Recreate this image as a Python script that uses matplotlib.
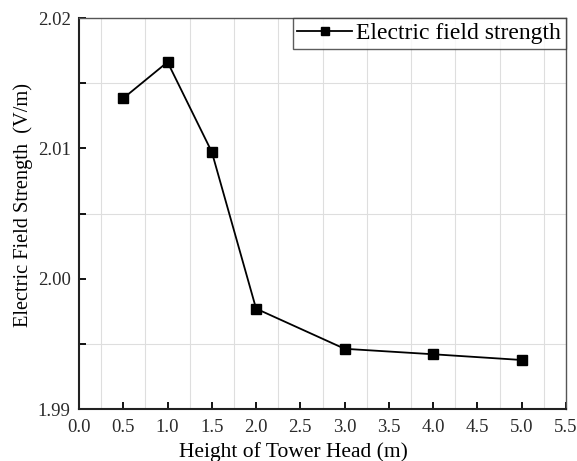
import numpy as np
import matplotlib.pyplot as plt
from matplotlib.ticker import MultipleLocator, FormatStrFormatter

# Data
height = [0.5, 1.0, 1.5, 2.0, 3.0, 4.0, 5.0]
field = [2.01384, 2.01662, 2.00972, 1.99770, 1.99462, 1.99420, 1.99376]

plt.rcParams['font.family'] = ['Liberation Serif', 'DejaVu Serif']
plt.rcParams['mathtext.fontset'] = 'stix'

fig = plt.figure(figsize=(5.77, 4.61), dpi=100)
ax = fig.add_axes([79 / 577, 1 - 409 / 461, 487 / 577, 391 / 461])

ax.plot(height, field, color='black', linewidth=1.3, marker='s',
        markersize=7.5, markerfacecolor='black', markeredgecolor='black',
        label='Electric field strength')

ax.set_xlim(0, 5.5)
ax.set_ylim(1.99, 2.02)
ax.xaxis.set_major_locator(MultipleLocator(0.5))
ax.xaxis.set_minor_locator(MultipleLocator(0.25))
ax.yaxis.set_major_locator(MultipleLocator(0.01))
ax.yaxis.set_minor_locator(MultipleLocator(0.005))
ax.xaxis.set_major_formatter(FormatStrFormatter('%.1f'))
ax.yaxis.set_major_formatter(FormatStrFormatter('%.2f'))

# grid only at the in-between positions
ax.grid(True, which='minor', color='#dedede', linewidth=0.8)
ax.grid(False, which='major')
ax.set_axisbelow(True)

ax.tick_params(axis='both', which='major', direction='in', length=5,
               width=1.3, labelsize=13.5, colors='black')
ax.tick_params(axis='x', which='major', pad=7)
ax.tick_params(axis='y', which='major', pad=6)
ax.tick_params(axis='x', which='minor', length=0)
ax.tick_params(axis='y', which='minor', direction='in', length=5, width=1.3)
ax.tick_params(axis='both', labelcolor='#2a2a2a')

for side in ['left', 'bottom']:
    ax.spines[side].set_linewidth(1.5)
    ax.spines[side].set_color('#222222')
for side in ['top', 'right']:
    ax.spines[side].set_linewidth(1.0)
    ax.spines[side].set_color('#555555')

ax.set_xlabel('Height of Tower Head (m)', fontsize=15.5)
ax.xaxis.set_label_coords(0.44, -0.085, transform=ax.transAxes)
ax.xaxis.label.set_va('top')
ax.set_ylabel('Electric Field Strength  (V/m)', fontsize=14.7)
ax.yaxis.set_label_coords(-0.094, 0.522, transform=ax.transAxes)

leg = ax.legend(loc='upper right', fontsize=17, frameon=True, fancybox=False,
                borderaxespad=0.0, handlelength=2.3, handletextpad=0.2,
                borderpad=0.2, markerscale=0.75)
leg.get_frame().set_edgecolor('#333333')
leg.get_frame().set_linewidth(1.0)

fig.savefig('out.png', dpi=100)
